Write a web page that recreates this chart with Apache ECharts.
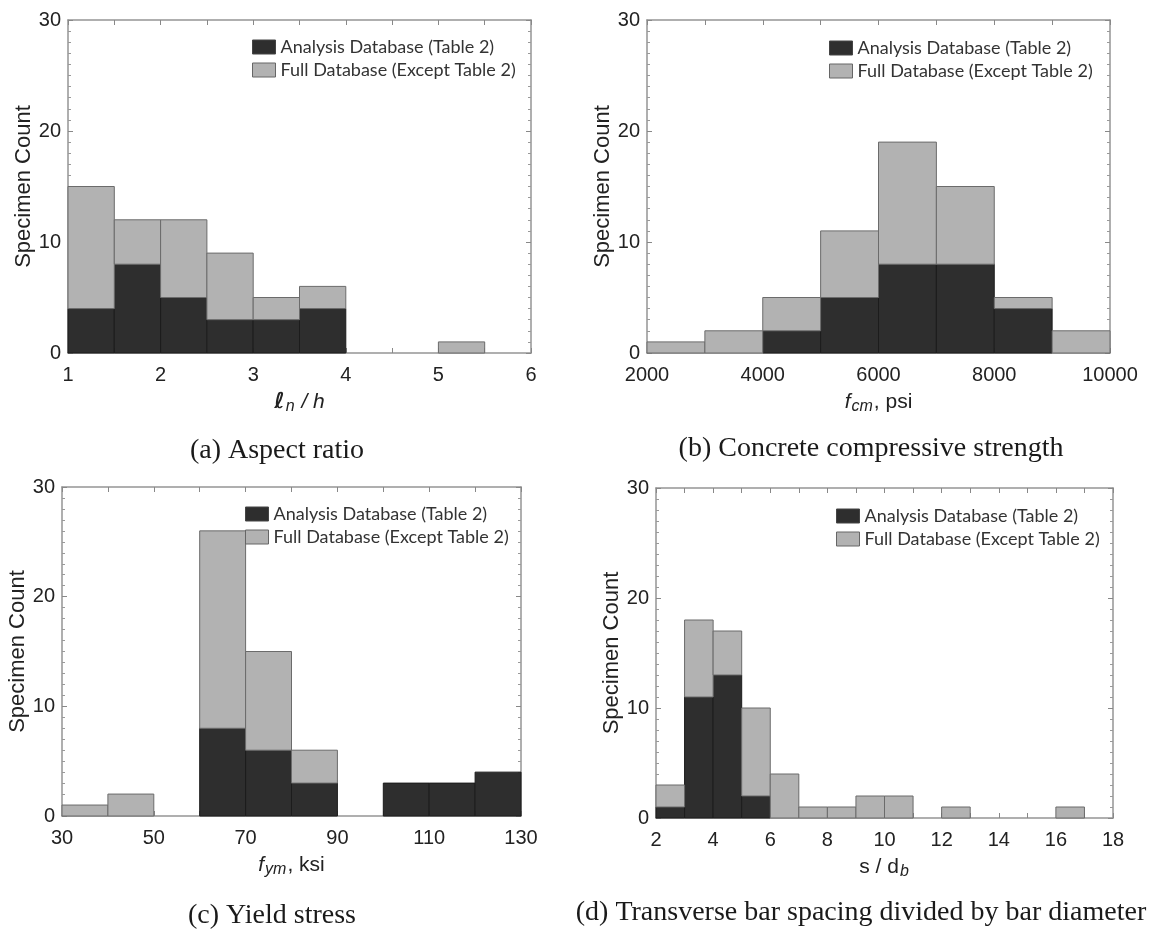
<!DOCTYPE html>
<html><head><meta charset="utf-8">
<script src="https://cdn.jsdelivr.net/npm/echarts@6/dist/echarts.min.js"></script>
<style>html,body{margin:0;padding:0;background:#fff}#c{width:1153px;height:931px}</style>
</head><body><div id="c"></div>
<script>
// ---------- data ----------
const seriesNames = ['Analysis Database (Table 2)', 'Full Database (Except Table 2)'];
const yTicks = [0, 10, 20, 30];

// (a) Aspect ratio, ln/h
const aEdges = [1, 1.5, 2, 2.5, 3, 3.5, 4, 4.5, 5, 5.5, 6];
const aAnalysis = [4, 8, 5, 3, 3, 4, 0, 0, 0, 0];
const aTotal = [15, 12, 12, 9, 5, 6, 0, 0, 1, 0];
const aTicks = [1, 2, 3, 4, 5, 6];

// (b) Concrete compressive strength, fcm psi
const bEdges = [2000, 3000, 4000, 5000, 6000, 7000, 8000, 9000, 10000];
const bAnalysis = [0, 0, 2, 5, 8, 8, 4, 0];
const bTotal = [1, 2, 5, 11, 19, 15, 5, 2];
const bTicks = [2000, 4000, 6000, 8000, 10000];

// (c) Yield stress, fym ksi
const cEdges = [30, 40, 50, 60, 70, 80, 90, 100, 110, 120, 130];
const cAnalysis = [0, 0, 0, 8, 6, 3, 0, 3, 3, 4];
const cTotal = [1, 2, 0, 26, 15, 6, 0, 3, 3, 4];
const cTicks = [30, 50, 70, 90, 110, 130];

// (d) Transverse bar spacing / bar diameter, s/db
const dEdges = [2, 3, 4, 5, 6, 7, 8, 9, 10, 11, 12, 13, 14, 15, 16, 17, 18];
const dAnalysis = [1, 11, 13, 2, 0, 0, 0, 0, 0, 0, 0, 0, 0, 0, 0, 0];
const dTotal = [3, 18, 17, 10, 4, 1, 1, 2, 2, 0, 1, 0, 0, 0, 1, 0];
const dTicks = [2, 4, 6, 8, 10, 12, 14, 16, 18];

const captions = [
  '(a) Aspect ratio',
  '(b) Concrete compressive strength',
  '(c) Yield stress',
  '(d) Transverse bar spacing divided by bar diameter'
];

// ---------- styles ----------
const DARK = '#2e2e2e', DARK_B = '#1c1c1c';
const LIGHT = '#b2b2b2', LIGHT_B = '#6b6b6b';
const FRAME = '#959595';
const SANS = '"Liberation Sans", Arial, sans-serif';

const panels = [
  { edges: aEdges, an: aAnalysis, tot: aTotal, ticks: aTicks, minor: 2,
    grid: { left: 68, top: 20, width: 463, height: 333 },
    legend: { left: 252, top: 38 },
    xname: '{bi|ℓ}{sub|n}{i| / h}',
    cap: { x: 277, y: 451 } },
  { edges: bEdges, an: bAnalysis, tot: bTotal, ticks: bTicks, minor: 2,
    grid: { left: 647, top: 20, width: 463, height: 333 },
    legend: { left: 829, top: 39 },
    xname: '{i|f}{sub|cm}{n|, psi}',
    cap: { x: 871, y: 449 } },
  { edges: cEdges, an: cAnalysis, tot: cTotal, ticks: cTicks, minor: 2,
    grid: { left: 62, top: 487, width: 459, height: 329 },
    legend: { left: 245, top: 505 },
    xname: '{i|f}{sub|ym}{n|, ksi}',
    cap: { x: 272, y: 916 } },
  { edges: dEdges, an: dAnalysis, tot: dTotal, ticks: dTicks, minor: 2,
    grid: { left: 656, top: 488, width: 457, height: 330 },
    legend: { left: 836, top: 507 },
    xname: '{n|s / d}{sub|b}',
    cap: { x: 861, y: 913 } }
];

const nameRich = {
  n: { fontFamily: SANS, fontSize: 21, color: '#222', lineHeight: 26, verticalAlign: 'middle' },
  i: { fontFamily: SANS, fontSize: 21, fontStyle: 'italic', color: '#222', lineHeight: 26, verticalAlign: 'middle' },
  bi: { fontFamily: 'DejaVu Sans, sans-serif', fontSize: 22, fontStyle: 'italic', fontWeight: 'bold', color: '#222', lineHeight: 26, verticalAlign: 'middle' },
  sub: { fontFamily: SANS, fontSize: 16, fontStyle: 'italic', color: '#222', lineHeight: 14, verticalAlign: 'bottom', padding: [0, 1, 0, 1] }
};

function makeRender(fill, stroke) {
  return function (params, api) {
    const x0 = api.value(0), x1 = api.value(1), y0 = api.value(2), y1 = api.value(3);
    if (!(y1 > y0)) return null;
    const p0 = api.coord([x0, y0]);
    const p1 = api.coord([x1, y1]);
    return {
      type: 'rect',
      shape: { x: p0[0], y: p1[1], width: p1[0] - p0[0], height: p0[1] - p1[1] },
      style: { fill: fill, stroke: stroke, lineWidth: 1 }
    };
  };
}

const grids = [], xAxes = [], yAxes = [], series = [], legends = [], graphics = [];

panels.forEach((p, i) => {
  grids.push(Object.assign({ containLabel: false }, p.grid));
  const xmin = p.ticks[0], xmax = p.ticks[p.ticks.length - 1];
  const xint = p.ticks[1] - p.ticks[0];
  const common = {
    gridIndex: i, type: 'value', min: xmin, max: xmax, interval: xint,
    axisLine: { show: true, onZero: false, lineStyle: { color: FRAME, width: 1.5 } },
    axisTick: { show: true, inside: true, length: 5, lineStyle: { color: '#888' } },
    minorTick: { show: true, splitNumber: p.minor, length: 5, lineStyle: { color: '#888' } },
    splitLine: { show: false }, minorSplitLine: { show: false }
  };
  xAxes.push(Object.assign({}, common, {
    position: 'bottom',
    axisLabel: { show: true, margin: 12, fontFamily: SANS, fontSize: 20, color: '#222', formatter: v => String(v) },
    name: p.xname, nameLocation: 'middle', nameGap: 36,
    nameTextStyle: { rich: nameRich }
  }));
  xAxes.push(Object.assign({}, common, { position: 'top', axisLabel: { show: false } }));
  const ycommon = {
    gridIndex: i, type: 'value', min: yTicks[0], max: yTicks[yTicks.length - 1], interval: yTicks[1] - yTicks[0],
    axisLine: { show: true, onZero: false, lineStyle: { color: FRAME, width: 1.5 } },
    axisTick: { show: true, inside: true, length: 5, lineStyle: { color: '#888' } },
    minorTick: { show: true, splitNumber: 10, length: 3, lineStyle: { color: '#999' } },
    splitLine: { show: false }, minorSplitLine: { show: false }
  };
  yAxes.push(Object.assign({}, ycommon, {
    position: 'left',
    axisLabel: { show: true, margin: 7, fontFamily: SANS, fontSize: 20, color: '#222' },
    name: 'Specimen Count', nameLocation: 'middle', nameGap: 33,
    nameTextStyle: { fontFamily: SANS, fontSize: 22, color: '#222' }
  }));
  yAxes.push(Object.assign({}, ycommon, { position: 'right', axisLabel: { show: false } }));

  const darkData = [], lightData = [];
  for (let k = 0; k < p.an.length; k++) {
    darkData.push([p.edges[k], p.edges[k + 1], 0, p.an[k]]);
    lightData.push([p.edges[k], p.edges[k + 1], p.an[k], p.tot[k]]);
  }
  series.push({
    type: 'custom', name: seriesNames[0], xAxisIndex: 2 * i, yAxisIndex: 2 * i,
    renderItem: makeRender(DARK, DARK_B), encode: { x: [0, 1], y: [2, 3] },
    itemStyle: { color: DARK, borderColor: DARK_B }, data: darkData, silent: true
  });
  series.push({
    type: 'custom', name: seriesNames[1], xAxisIndex: 2 * i, yAxisIndex: 2 * i,
    renderItem: makeRender(LIGHT, LIGHT_B), encode: { x: [0, 1], y: [2, 3] },
    itemStyle: { color: LIGHT, borderColor: LIGHT_B }, data: lightData, silent: true
  });

  legends.push({
    orient: 'vertical', left: p.legend.left, top: p.legend.top, padding: 0,
    itemWidth: 23, itemHeight: 14, itemGap: 5, selectedMode: false,
    textStyle: { fontFamily: 'Lato, "Open Sans", sans-serif', fontSize: 18, color: '#333', lineHeight: 18 },
    data: [
      { name: seriesNames[0], icon: 'rect', itemStyle: { color: DARK, borderColor: '#444', borderWidth: 1 } },
      { name: seriesNames[1], icon: 'rect', itemStyle: { color: LIGHT, borderColor: '#666', borderWidth: 1 } }
    ]
  });

  graphics.push({
    type: 'text', x: p.cap.x, y: p.cap.y,
    style: { text: captions[i], fontFamily: '"Liberation Serif", "Times New Roman", serif', fontSize: 28,
             fill: '#1a1a1a', align: 'center', verticalAlign: 'middle', textAlign: 'center', textVerticalAlign: 'middle' }
  });
});

const chart = echarts.init(document.getElementById('c'), null, { renderer: 'canvas' });
chart.setOption({
  backgroundColor: '#fff',
  animation: false,
  grid: grids, xAxis: xAxes, yAxis: yAxes, series: series, legend: legends, graphic: graphics
});
</script>
</body></html>
